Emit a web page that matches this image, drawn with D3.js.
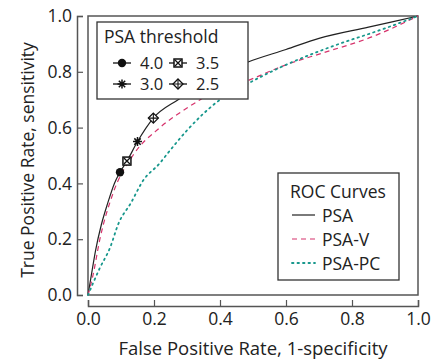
<!DOCTYPE html>
<html>
<head>
<meta charset="utf-8">
<script src="https://cdn.jsdelivr.net/npm/d3@7/dist/d3.min.js"></script>
<style>
  body { margin: 0; background: #fff; }
  text { font-family: "Open Sans", sans-serif; fill: #222; }
</style>
</head>
<body>
<div id="chart"></div>
<script>
// ROC curve points [fpr, tpr]
const psa = [[0,0],[0.01,0.07],[0.023,0.16],[0.04,0.25],[0.06,0.33],[0.08,0.40],[0.097,0.44],[0.118,0.48],[0.15,0.55],[0.198,0.634],[0.273,0.70],[0.35,0.76],[0.485,0.835],[0.6,0.88],[0.70,0.92],[0.85,0.96],[1,1]];
const psaV = [[0,0],[0.015,0.07],[0.036,0.20],[0.076,0.365],[0.136,0.50],[0.218,0.60],[0.30,0.67],[0.34,0.70],[0.488,0.77],[0.6,0.825],[0.71,0.867],[0.86,0.925],[1,1]];
const psaPC = [[0,0],[0.036,0.097],[0.067,0.17],[0.092,0.255],[0.13,0.33],[0.167,0.41],[0.218,0.473],[0.243,0.51],[0.30,0.59],[0.4,0.70],[0.488,0.76],[0.6,0.825],[0.71,0.878],[0.91,0.96],[1,1]];

// threshold markers on the PSA curve
const thresholds = [
  { label: '4.0', fpr: 0.097, tpr: 0.44, shape: 'circle' },
  { label: '3.5', fpr: 0.118, tpr: 0.48, shape: 'square' },
  { label: '3.0', fpr: 0.15, tpr: 0.55, shape: 'star' },
  { label: '2.5', fpr: 0.198, tpr: 0.634, shape: 'diamond' }
];

const ticks = [0, 0.2, 0.4, 0.6, 0.8, 1.0];

const curves = [
  { name: 'PSA', data: psa, color: '#222', dash: null, width: 1.2 },
  { name: 'PSA-V', data: psaV, color: '#d6336c', dash: '5,4', width: 1.2 },
  { name: 'PSA-PC', data: psaPC, color: '#17978c', dash: '1.5,4', width: 1.8 }
];

const W = 444, H = 362;
const m = { left: 88, right: 418, top: 16, bottom: 295 };
const fs = '17.5px';

const svg = d3.select('#chart').append('svg')
  .attr('width', W).attr('height', H);

const x = d3.scaleLinear().domain([0, 1]).range([m.left, m.right]);
const y = d3.scaleLinear().domain([0, 1]).range([m.bottom, m.top]);

// plot frame
svg.append('rect')
  .attr('x', m.left).attr('y', m.top)
  .attr('width', m.right - m.left).attr('height', m.bottom - m.top)
  .attr('fill', 'none').attr('stroke', '#555').attr('stroke-width', 1.5);

// axes, offset from the frame, ticks pointing inward
const yAxis = svg.append('g')
  .attr('transform', 'translate(77,0)')
  .call(d3.axisLeft(y).tickValues(ticks).tickFormat(d3.format('.1f')).tickSize(-6).tickPadding(5));
const xAxis = svg.append('g')
  .attr('transform', 'translate(0,306)')
  .call(d3.axisBottom(x).tickValues(ticks).tickFormat(d3.format('.1f')).tickSize(-6).tickPadding(7));

[yAxis, xAxis].forEach(a => {
  a.select('.domain').attr('stroke', '#555').attr('stroke-width', 1.5);
  a.selectAll('.tick line').attr('stroke', '#555').attr('stroke-width', 1.2);
  a.selectAll('.tick text').style('font-size', fs).style('font-family', '"Open Sans", sans-serif').attr('fill', '#222');
});

svg.append('text')
  .attr('x', 253).attr('y', 355)
  .attr('text-anchor', 'middle').style('font-size', '18.5px')
  .text('False Positive Rate, 1-specificity');

svg.append('text')
  .attr('transform', 'translate(34,160) rotate(-90)')
  .attr('text-anchor', 'middle').style('font-size', fs)
  .text('True Positive Rate, sensitivity');

const line = d3.line().x(d => x(d[0])).y(d => y(d[1])).curve(d3.curveMonotoneX);

svg.selectAll('path.curve').data(curves).enter().append('path')
  .attr('class', 'curve')
  .attr('d', d => line(d.data))
  .attr('fill', 'none')
  .attr('stroke', d => d.color)
  .attr('stroke-width', d => d.width)
  .attr('stroke-dasharray', d => d.dash)
  .attr('stroke-linecap', d => d.name === 'PSA-PC' ? 'round' : 'butt');

function drawMarker(g, shape, cx, cy) {
  if (shape === 'circle') {
    g.append('circle').attr('cx', cx).attr('cy', cy).attr('r', 4.2).attr('fill', '#111');
  } else if (shape === 'square') {
    g.append('rect').attr('x', cx - 4).attr('y', cy - 4).attr('width', 8).attr('height', 8)
      .attr('fill', '#fff').attr('stroke', '#111').attr('stroke-width', 1.5);
    g.append('path').attr('d', `M${cx-3},${cy-3}L${cx+3},${cy+3}M${cx+3},${cy-3}L${cx-3},${cy+3}`)
      .attr('stroke', '#111').attr('stroke-width', 1.3);
  } else if (shape === 'star') {
    const r = 4.5;
    let d = '';
    for (let i = 0; i < 4; i++) {
      const a = i * Math.PI / 4;
      d += `M${cx - r * Math.cos(a)},${cy - r * Math.sin(a)}L${cx + r * Math.cos(a)},${cy + r * Math.sin(a)}`;
    }
    g.append('path').attr('d', d).attr('stroke', '#111').attr('stroke-width', 1.5);
  } else if (shape === 'diamond') {
    const r = 5;
    g.append('path').attr('d', `M${cx},${cy-r}L${cx+r},${cy}L${cx},${cy+r}L${cx-r},${cy}Z`)
      .attr('fill', '#fff').attr('stroke', '#111').attr('stroke-width', 1.3);
    g.append('path').attr('d', `M${cx},${cy-r}V${cy+r}M${cx-r},${cy}H${cx+r}`)
      .attr('stroke', '#111').attr('stroke-width', 1.1);
  }
}

const markers = svg.append('g');
thresholds.forEach(t => drawMarker(markers, t.shape, x(t.fpr), y(t.tpr)));

// PSA threshold legend
const lg1 = svg.append('g');
lg1.append('rect').attr('x', 97).attr('y', 22).attr('width', 151).attr('height', 77)
  .attr('fill', '#fff').attr('stroke', '#333').attr('stroke-width', 1.3);
lg1.append('text').attr('x', 104).attr('y', 43).style('font-size', fs).text('PSA threshold');
thresholds.forEach((t, i) => {
  const col = i % 2, row = Math.floor(i / 2);
  const lx = 113 + col * 56, ly = 63 + row * 21;
  lg1.append('line').attr('x1', lx).attr('x2', lx + 18).attr('y1', ly).attr('y2', ly)
    .attr('stroke', '#111').attr('stroke-width', 1.3);
  drawMarker(lg1, t.shape, lx + 9, ly);
  lg1.append('text').attr('x', lx + 27).attr('y', ly + 6).style('font-size', '16.5px').text(t.label);
});

// ROC curves legend
const lg2 = svg.append('g');
lg2.append('rect').attr('x', 278).attr('y', 173).attr('width', 121).attr('height', 107)
  .attr('fill', '#fff').attr('stroke', '#333').attr('stroke-width', 1.3);
lg2.append('text').attr('x', 290).attr('y', 198).style('font-size', fs).text('ROC Curves');
curves.forEach((c, i) => {
  const ly = 215 + i * 24;
  lg2.append('line').attr('x1', 292).attr('x2', 315).attr('y1', ly).attr('y2', ly)
    .attr('stroke', c.color).attr('stroke-width', c.width).attr('stroke-dasharray', c.dash)
    .attr('stroke-linecap', c.name === 'PSA-PC' ? 'round' : 'butt');
  lg2.append('text').attr('x', 322).attr('y', ly + 6.5).style('font-size', fs).text(c.name);
});
</script>
</body>
</html>
